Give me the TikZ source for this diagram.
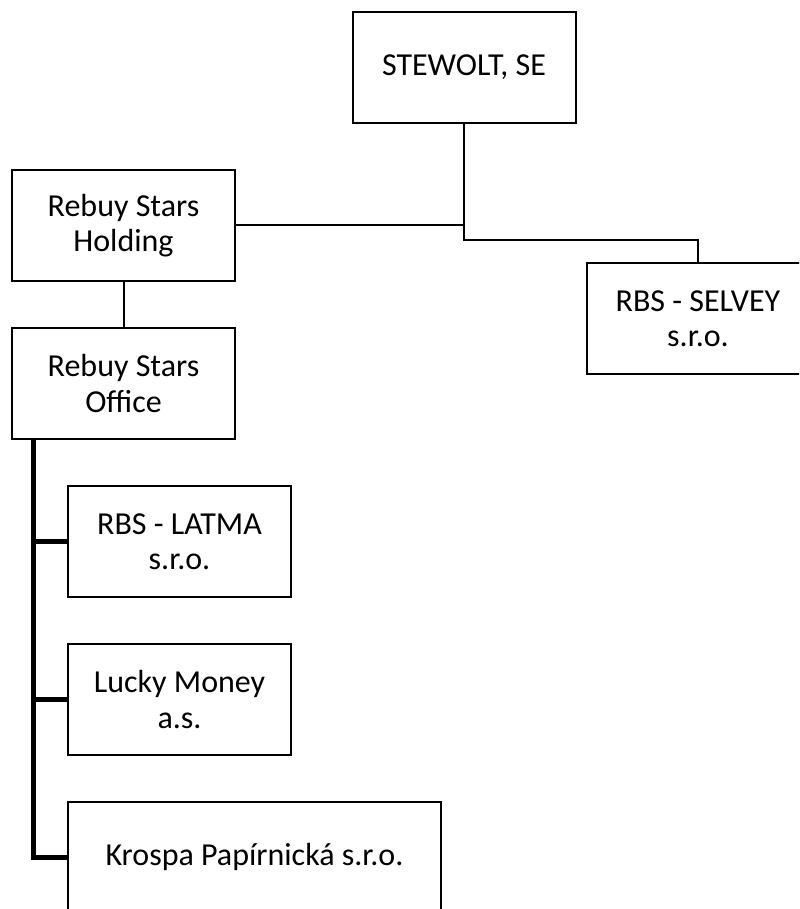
\documentclass[tikz,border=0pt]{standalone}
\usepackage{fontspec}
\setmainfont{Carlito}
\usepackage{tikz}
\usetikzlibrary{positioning,calc}

\begin{document}
\begin{tikzpicture}[
  x=0.75pt, y=-0.75pt,
  font=\fontsize{24}{26.5}\selectfont,
  orgbox/.style={draw, line width=1.5pt, rectangle, align=center, inner sep=0pt,
    minimum width=167.25pt, minimum height=83.25pt},
  link/.style={line width=1.5pt},
  spine/.style={line width=3.75pt}
]

  \useasboundingbox (0,0) rectangle (799,909);
  \clip (0,0) rectangle (799,909);

  % Top level
  \node[orgbox] (stewolt) at (464, 67.5) {STEWOLT, SE};

  % Second level
  \node[orgbox] (holding) at (123.5, 225.5) {Rebuy Stars\\Holding};
  \node[orgbox] (selvey) at (698, 318.5) {RBS - SELVEY\\s.r.o.};
  \node[orgbox] (office) at (123.5, 383.5) {Rebuy Stars\\Office};

  % Subsidiaries of the office
  \node[orgbox] (latma) at (179.5, 541.5) {RBS - LATMA\\s.r.o.};
  \node[orgbox] (lucky) at (179.5, 699.5) {Lucky Money\\a.s.};
  \node[orgbox, minimum width=279.75pt, minimum height=82.5pt] (krospa) at (254.5, 857) {Krospa Papírnická s.r.o.};

  % Connectors from the top
  \coordinate (hub) at (stewolt.south |- holding.east);
  \draw[link] (stewolt.south) -- (hub) -- (holding.east);
  \draw[link] (hub) -- ++(0,14) -| (selvey.north);
  \draw[link] (holding.south) -- (office.north);

  % Thick spine down the left
  \coordinate (spinetop) at ($(office.south west)+(22.5,0)$);
  \draw[spine] (spinetop) |- (krospa.west);
  \draw[spine] (spinetop |- latma.west) -- (latma.west);
  \draw[spine] (spinetop |- lucky.west) -- (lucky.west);

\end{tikzpicture}
\end{document}
